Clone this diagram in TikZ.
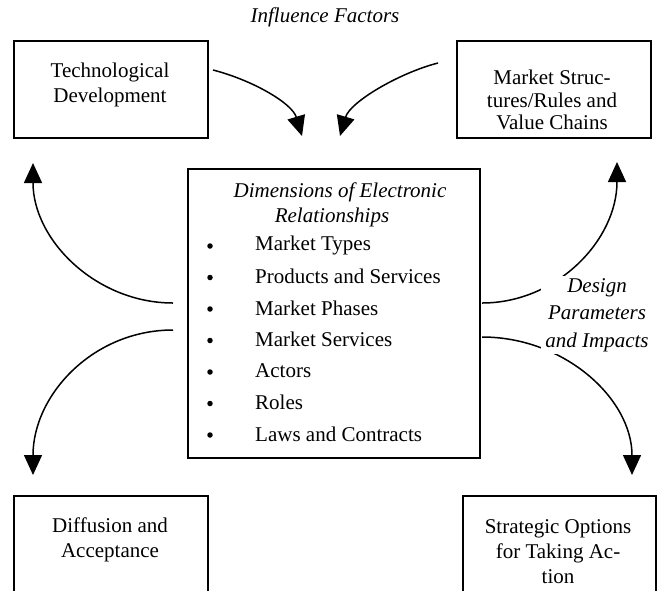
\documentclass[tikz,border=0pt]{standalone}
\usepackage{fontspec}
\setmainfont{Liberation Serif}
\usetikzlibrary{arrows.meta}

\begin{document}
\begin{tikzpicture}[x=1pt,y=-1pt,
  box/.style={draw,line width=1.8pt,minimum width=194pt,minimum height=97pt,inner sep=0pt},
  txt/.style={align=center,inner sep=0pt},
  dot/.style={circle,fill,inner sep=0pt,minimum size=5.5pt},
  flow/.style={line width=1.5pt,-{Triangle[length=20pt,width=18pt]}}]
\useasboundingbox (0,0) rectangle (660,590);
\clip (0,0) rectangle (660,590);

% factors on top, results at the bottom
\node[box,anchor=north west] (tech) at (13,40) {};
\node[box,anchor=north west] (market) at (456,40) {};
\node[box,anchor=north west,minimum height=120pt] (diff) at (13,495) {};
\node[box,anchor=north west,minimum width=193pt,minimum height=120pt] (strat) at (462,495) {};
\node[box,anchor=north west,minimum width=292pt,minimum height=289pt] (dims) at (187,168) {};

\node[txt,font=\fontsize{21}{25}\selectfont] (techtxt) at (110,84.5) {Technological\\Development};
\begin{scope}
\clip (456,40) rectangle (650,129);
\node[txt,font=\fontsize{21}{22.5}\selectfont] (markettxt) at (552,100) {Market Struc-\\tures/Rules and\\Value Chains};
\end{scope}
\node[txt,font=\fontsize{21}{25}\selectfont] (difftxt) at (110,539.5) {Diffusion and\\Acceptance};
\begin{scope}
\clip (462,495) rectangle (655,584);
\node[txt,font=\fontsize{21}{25}\selectfont] (strattxt) at (558,552) {Strategic Options\\for Taking Ac-\\tion};
\end{scope}

\node[txt,font=\fontsize{21}{25}\selectfont\itshape] (influence) at (325,17) {Influence Factors};
\node[txt,font=\fontsize{21}{25}\selectfont\itshape] (head) at (340,204.5) {Dimensions of Electronic\\Relationships\hspace*{16pt}};
\foreach \name [count=\i] in {Market Types,Products and Services,Market Phases,Market Services,Actors,Roles,Laws and Contracts} {
  \node[dot] (bul\i) at (210,{246+31.5*(\i-1)}) {};
  \node[anchor=west,inner sep=0pt,font=\fontsize{21}{25}\selectfont] (item\i) at (255,{245+31.5*(\i-1)}) {\name};
}

% arrow ends
\coordinate (tl-s) at (213,70);
\coordinate (tl-e) at (302,136);
\coordinate (tr-s) at (438,63);
\coordinate (tr-e) at (340,136);
\coordinate (ul-s) at (173,303);
\coordinate (ul-e) at (33,163);
\coordinate (ll-s) at (173,330);
\coordinate (ll-e) at (33,475);
\coordinate (ur-s) at (482,303);
\coordinate (ur-e) at (617,162);
\coordinate (lr-s) at (482,337);
\coordinate (lr-e) at (632,475);

\draw[flow] (tl-s) .. controls (252,80) and (292,103) .. (tl-e);
\draw[flow] (tr-s) .. controls (399,73) and (350,102) .. (tr-e);
\draw[flow] (ul-s) .. controls (96,303) and (33,240) .. (ul-e);
\draw[flow] (ll-s) .. controls (93,330) and (33,395) .. (ll-e);
\draw[flow] (ur-s) .. controls (557,303) and (617,240) .. (ur-e);
\draw[flow] (lr-s) .. controls (565,337) and (632,399) .. (lr-e);

\node[txt,fill=white,inner xsep=4pt,inner ysep=2pt,font=\fontsize{21}{27.5}\selectfont\itshape] (design) at (597,315) {Design\\Parameters\\and Impacts};
\end{tikzpicture}
\end{document}
